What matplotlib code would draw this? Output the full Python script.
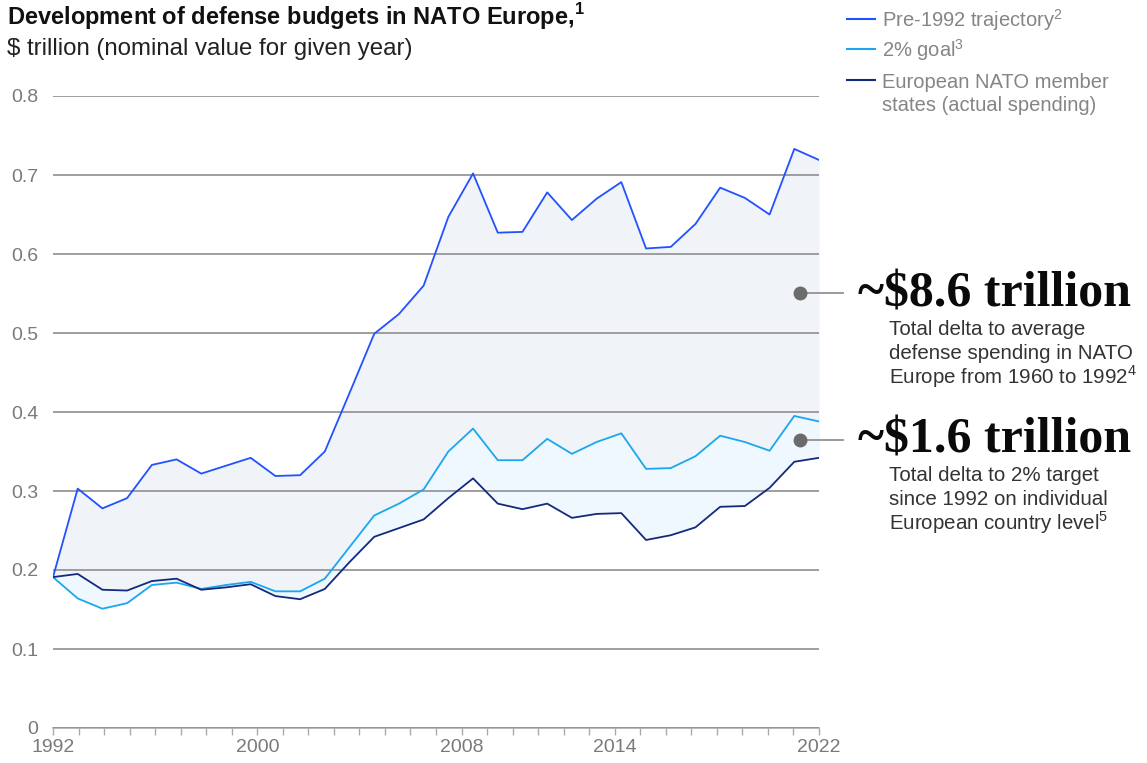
import numpy as np
import matplotlib
matplotlib.use('Agg')
import matplotlib.pyplot as plt

plt.rcParams['font.family'] = ['Liberation Sans', 'DejaVu Sans']
plt.rcParams['mathtext.fontset'] = 'custom'
plt.rcParams['mathtext.rm'] = 'Liberation Sans'
plt.rcParams['mathtext.bf'] = 'Liberation Sans:bold'

# data, $ trillion
years = list(range(1992, 2024))
pre1992 = [0.191, 0.303, 0.278, 0.291, 0.333, 0.340, 0.322, 0.332, 0.342, 0.319,
           0.320, 0.350, 0.424, 0.499, 0.524, 0.560, 0.647, 0.702, 0.627, 0.628,
           0.678, 0.643, 0.670, 0.691, 0.607, 0.609, 0.638, 0.684, 0.671, 0.650,
           0.733, 0.719]
goal2pct = [0.191, 0.164, 0.151, 0.158, 0.181, 0.184, 0.176, 0.181, 0.185, 0.173,
            0.173, 0.189, 0.229, 0.269, 0.284, 0.302, 0.350, 0.379, 0.339, 0.339,
            0.366, 0.347, 0.362, 0.373, 0.328, 0.329, 0.344, 0.370, 0.362, 0.351,
            0.395, 0.388]
actual = [0.191, 0.195, 0.175, 0.174, 0.186, 0.189, 0.175, 0.178, 0.182, 0.167,
          0.163, 0.176, 0.210, 0.242, 0.253, 0.264, 0.291, 0.316, 0.284, 0.277,
          0.284, 0.266, 0.271, 0.272, 0.238, 0.244, 0.254, 0.280, 0.281, 0.304,
          0.337, 0.342]
tick_years = list(range(1992, 2023))
shown_years = [1992, 2000, 2008, 2014, 2022]
yticks = [0, 0.1, 0.2, 0.3, 0.4, 0.5, 0.6, 0.7, 0.8]

W, H = 1147, 763
fig = plt.figure(figsize=(W / 100, H / 100), dpi=100)

def fx(x):
    return x / W

def fy(y):
    return 1 - y / H

ax = fig.add_axes([fx(53), fy(728), fx(819) - fx(53), fy(96) - fy(728)])

blue = '#2251FF'
cyan = '#1AA7EE'
navy = '#142A7C'

ax.fill_between(years, pre1992, actual, color='#F0F3F7', lw=0, zorder=1)
ax.fill_between(years, goal2pct, actual, color='#F0F8FF', lw=0, zorder=2)
ax.plot(years, pre1992, color=blue, lw=1.3, zorder=4)
ax.plot(years, goal2pct, color=cyan, lw=1.3, zorder=4)
ax.plot(years, actual, color=navy, lw=1.3, zorder=4)

ax.set_xlim(years[0], years[-1])
ax.set_ylim(0, 0.8)
ax.set_yticks(yticks)
ax.set_yticklabels(['0' if v == 0 else f'{v:.1f}' for v in yticks])
ax.yaxis.grid(True, color='#8f8f8f', lw=1.2, zorder=3)
ax.tick_params(axis='y', length=0, pad=10.5, labelsize=14, labelcolor='#7a7a7a')

# 31 ticks spread over the full width, only some labelled
tick_pos = np.linspace(years[0], years[-1], len(tick_years))
ax.set_xticks(tick_pos)
ax.set_xticklabels([str(y) if y in shown_years else '' for y in tick_years])
ax.tick_params(axis='x', length=5, width=1, color='#ababab', pad=3,
               labelsize=14, labelcolor='#7a7a7a')
for s in ['top', 'right', 'left']:
    ax.spines[s].set_visible(False)
ax.spines['bottom'].set_color('#ababab')
ax.spines['bottom'].set_linewidth(1.2)
ax.set_axisbelow(False)

# title
fig.text(fx(7), fy(25), 'Development of defense budgets in NATO Europe,$^\\mathbf{1}$',
         fontsize=17, fontweight='bold', color='#111111', va='baseline')
fig.text(fx(7), fy(55), '$ trillion (nominal value for given year)',
         fontsize=17.3, color='#222222', va='baseline')

# legend
leg_items = [(['Pre-1992 trajectory$^2$'], blue, 19, 27),
             (['2% goal$^3$'], cyan, 49, 57),
             (['European NATO member', 'states (actual spending)'], navy, 80, 88)]
for lines, col, yline, ybase in leg_items:
    fig.lines.append(plt.Line2D([fx(847), fx(875)], [fy(yline), fy(yline)], color=col,
                                lw=1.5, transform=fig.transFigure))
    for i, txt in enumerate(lines):
        fig.text(fx(882), fy(ybase + 23 * i), txt, fontsize=14.5, color='#858585',
                 va='baseline')

# callouts
callouts = [(293, '~$8.6 trillion', 306,
             ['Total delta to average', 'defense spending in NATO',
              'Europe from 1960 to 1992$^4$']),
            (440, '~$1.6 trillion', 452,
             ['Total delta to 2% target', 'since 1992 on individual',
              'European country level$^5$'])]
for ydot, big, ybig, small in callouts:
    fig.lines.append(plt.Line2D([fx(800), fx(843)], [fy(ydot), fy(ydot)], color='#9a9a9a',
                                lw=1.4, transform=fig.transFigure, zorder=5))
    fig.lines.append(plt.Line2D([fx(800)], [fy(ydot)], marker='o', ms=9, color='#6b6b6b',
                                transform=fig.transFigure, zorder=6))
    fig.text(fx(858), fy(ybig), big.replace('$', r'\$'), fontsize=36, fontweight='bold',
             family='Liberation Serif', color='#0a0a0a', va='baseline')
    for i, txt in enumerate(small):
        fig.text(fx(889), fy(ybig + 29 + 24.3 * i), txt, fontsize=14.8, color='#333333',
                 va='baseline')

fig.savefig('out.png', dpi=100)
